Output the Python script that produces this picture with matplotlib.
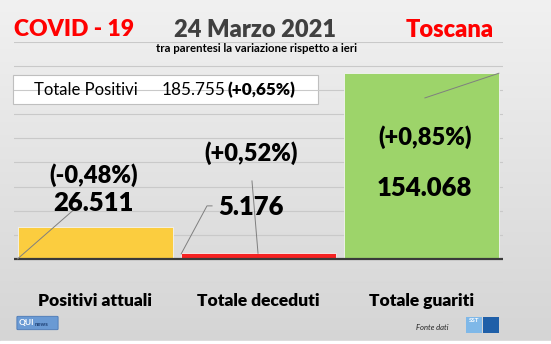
import matplotlib
matplotlib.use("Agg")
import matplotlib.pyplot as plt
from matplotlib.patches import Rectangle, FancyBboxPatch
import numpy as np

# Data
categories = ["Positivi attuali", "Totale deceduti", "Totale guariti"]
values = [26511, 5176, 154068]
value_labels = ["26.511", "5.176", "154.068"]
variations = ["(-0,48%)", "(+0,52%)", "(+0,85%)"]
bar_colors = ["#fbcd3f", "#f52222", "#9dd46a"]

date_text = "24 Marzo 2021"
region = "Toscana"
totale_positivi = "185.755"
totale_var = "(+0,65%)"

plt.rcParams['font.family'] = ['Lato', 'DejaVu Sans']
HEAVY = 'heavy'

W, H = 551, 344
fig = plt.figure(figsize=(W / 100, H / 100), dpi=100)

# background gradient
bg = fig.add_axes([0, 0, 1, 1], zorder=-10)
grad = np.linspace(0, 1, 256).reshape(-1, 1)
top = np.array([0.945, 0.945, 0.945])
bot = np.array([0.835, 0.835, 0.835])
img = top + (bot - top) * grad[:, :, None]
img = np.repeat(img, 4, axis=1)
bg.imshow(img, aspect='auto', extent=[0, 1, 0, 1])
bg.add_patch(Rectangle((0, 0), 1, 3 / H, color='white'))
bg.set_xlim(0, 1)
bg.set_ylim(0, 1)
bg.axis('off')


def fx(px):
    return px / W


def fy(py):
    return 1 - py / H


# main chart
ax = fig.add_axes([fx(14), fy(283), fx(503) - fx(14), fy(42) - fy(283)])
ax.patch.set_alpha(0)
x = np.arange(len(categories))
ax.bar(x, values, width=0.957, color=bar_colors, edgecolor='#f4f4f4', linewidth=0.6, zorder=3)
ax.set_xlim(-0.5, 2.5)
ax.set_ylim(-20000, 180000)
ax.set_yticks(np.arange(-20000, 180001, 20000))
ax.yaxis.grid(True, color='#c9c9c9', linewidth=0.8, zorder=0)
ax.axhline(0, color='#3a3a3a', linewidth=1.6, zorder=4)
for s in ax.spines.values():
    s.set_visible(False)
ax.tick_params(axis='y', left=False, labelleft=False)
ax.tick_params(axis='x', bottom=False, pad=4)
ax.set_xticks(x)
ax.set_xticklabels(categories, fontsize=12.5, fontweight=HEAVY, color='black')

# data labels
lab_off = [(-0.01, 69700, 46500), (-0.045, 88000, 43200), (0.02, 101200, 58900)]
for i, (dx, yv, yn) in enumerate(lab_off):
    ax.text(x[i] + dx, yv, variations[i], ha='center', va='center',
            fontsize=17, fontweight=HEAVY, color='black', zorder=6)
    ax.text(x[i] + dx, yn, value_labels[i], ha='center', va='center',
            fontsize=18.5, fontweight=HEAVY, color='black', zorder=6)

# leader lines (excel style)
lc = '#7f7f7f'
hw = 0.957 / 2
ax.plot([x[0] - hw, x[0] - 0.085], [0, 46500], color=lc, lw=0.7, zorder=5)
ax.plot([x[1] - hw + 0.004, x[1] - 0.316, x[1] - 0.285], [values[1] * 0.8, 44000, 44000],
        color=lc, lw=0.7, zorder=5)
ax.plot([x[1] - 0.003, x[1] - 0.04], [values[1] * 0.9, 64700], color=lc, lw=0.7, zorder=5)
ax.plot([x[2] + 0.021, x[2] + hw - 0.004], [133600, values[2]], color=lc, lw=0.7, zorder=5)

# header
fig.text(fx(14), fy(30), "COVID - 19", ha='left', va='center', fontsize=16.5,
         fontweight=HEAVY, color='#ff0000')
fig.text(fx(255), fy(30), date_text, ha='center', va='center', fontsize=17,
         fontweight=HEAVY, color='#404040')
fig.text(fx(450), fy(30), region, ha='center', va='center', fontsize=17,
         fontweight=HEAVY, color='#ff0000')
fig.text(fx(256), fy(49), "tra parentesi la variazione rispetto a ieri", ha='center',
         va='center', fontsize=8.2, fontweight='bold', color='black')

# totale positivi box
bg.add_patch(Rectangle((fx(13), fy(104)), fx(318) - fx(13), fy(75) - fy(104),
                       facecolor='white', edgecolor='#bfbfbf', lw=0.8, zorder=5))
fig.text(fx(34), fy(90), "Totale Positivi", ha='left', va='center', fontsize=12,
         color='black', zorder=6)
fig.text(fx(162), fy(90), totale_positivi, ha='left', va='center', fontsize=12.3,
         color='black', zorder=6)
fig.text(fx(227), fy(90), totale_var, ha='left', va='center', fontsize=12.3,
         fontweight=HEAVY, color='black', zorder=6)

# logos
bg.add_patch(FancyBboxPatch((fx(18), fy(329)), fx(39), fy(317) - fy(329),
                            boxstyle='round,pad=0.002', facecolor='#6a9ad4',
                            edgecolor='#4a78b5', lw=0.6, zorder=5))
fig.text(fx(19), fy(323), "QUI", ha='left', va='center', fontsize=6,
         fontweight='bold', color='white', zorder=6)
fig.text(fx(35), fy(324), "news", ha='left', va='center', fontsize=4.2,
         fontweight='bold', color='#1d3f73', zorder=6)
fig.text(fx(448), fy(328), "Fonte dati", ha='right', va='center', fontsize=5.5,
         style='italic', color='#222222')
bg.add_patch(Rectangle((fx(466), fy(333)), fx(16), fy(317) - fy(333),
                       facecolor='#7fb8e8', edgecolor='none', zorder=5))
bg.add_patch(Rectangle((fx(483), fy(333)), fx(16), fy(317) - fy(333),
                       facecolor='#1f5fa8', edgecolor='none', zorder=5))
fig.text(fx(474), fy(321), "SST", ha='center', va='center', fontsize=4.5,
         fontweight='bold', color='white', zorder=6)

fig.savefig("out.png", dpi=100)
